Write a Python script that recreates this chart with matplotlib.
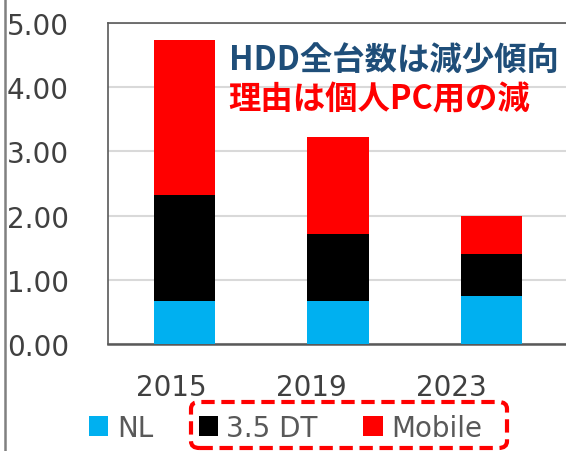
import matplotlib.pyplot as plt
import matplotlib.lines as mlines
from matplotlib.patches import FancyBboxPatch, Patch
import numpy as np

# ── DATA ──────────────────────────────────────────────────────────────
years  = ["2015", "2019", "2023"]
nl     = [0.67, 0.67, 0.74]
dt35   = [1.65, 1.05, 0.66]
mobile = [2.41, 1.51, 0.60]

series_names  = ["NL", "3.5 DT", "Mobile"]
series_colors = ["#00b0f0", "#000000", "#ff0000"]

note_line1 = "HDD全台数は減少傾向"
note_line2 = "理由は個人PC用の減"

# ── FIGURE ────────────────────────────────────────────────────────────
plt.rcParams["font.family"] = ["DejaVu Sans"]
W, H = 566, 452
fig = plt.figure(figsize=(W / 100, H / 100), dpi=100)

ax = fig.add_axes([108 / W, (H - 345) / H, 460 / W, 321 / H])
x = np.arange(len(years))
bottom = np.zeros(len(years))
for vals, name, col in zip([nl, dt35, mobile], series_names, series_colors):
    ax.bar(x, vals, width=0.4, bottom=bottom, color=col, label=name, zorder=3)
    bottom += np.array(vals)

ax.set_xlim(-0.5, 2.5)
ax.set_ylim(0, 5)
ax.set_yticks(np.arange(0, 5.01, 1))
ax.set_yticklabels([f"{v:.2f}" for v in np.arange(0, 5.01, 1)])
ax.yaxis.grid(True, color="#d9d9d9", linewidth=1.5, zorder=0)
ax.set_xticks([])
ax.tick_params(axis="y", length=0, pad=28, labelsize=20, labelcolor="#404040")
for s in ax.spines.values():
    s.set_color("#595959")
    s.set_linewidth(1.2)
ax.spines["bottom"].set_linewidth(1.8)

# year labels (sit slightly off the bars, like the source)
ax2 = fig.add_axes([101 / W, (H - 345) / H, 421 / W, 0.001])
ax2.set_xlim(-0.5, 2.5)
ax2.set_xticks(x)
ax2.set_xticklabels(years)
ax2.set_yticks([])
ax2.patch.set_visible(False)
for s in ax2.spines.values():
    s.set_visible(False)
ax2.tick_params(axis="x", length=0, pad=21, labelsize=20, labelcolor="#404040")

# annotation
jp = ["Noto Sans CJK JP", "DejaVu Sans"]
ax.text(0.262, 0.885, note_line1, transform=ax.transAxes, family=jp,
        fontsize=23.3, fontweight="bold", color="#1f4e79", va="center")
ax.text(0.262, 0.765, note_line2, transform=ax.transAxes, family=jp,
        fontsize=23.3, fontweight="bold", color="#ff0000", va="center")

# left edge line
fig.add_artist(mlines.Line2D([5 / W, 5 / W], [0, 1], color="#808080", linewidth=1.8))

# legend
handles = [Patch(facecolor=c, edgecolor="none") for c in series_colors]
fig.legend(handles, series_names, loc="center left",
           bbox_to_anchor=(64 / W, (H - 429) / H), ncol=3, frameon=False,
           fontsize=20, handlelength=0.7, handleheight=0.75,
           handletextpad=0.3, columnspacing=1.64, labelcolor="#595959")

# dashed rounded box around DT / Mobile
box = FancyBboxPatch((191 / W, (H - 449) / H), 316 / W, 46 / H,
                     boxstyle="round,pad=0,rounding_size=0.015",
                     transform=fig.transFigure, fill=False,
                     edgecolor="#ff0000", linewidth=3, linestyle=(0, (3.2, 1.6)))
fig.add_artist(box)

fig.savefig("out.png", dpi=100)
